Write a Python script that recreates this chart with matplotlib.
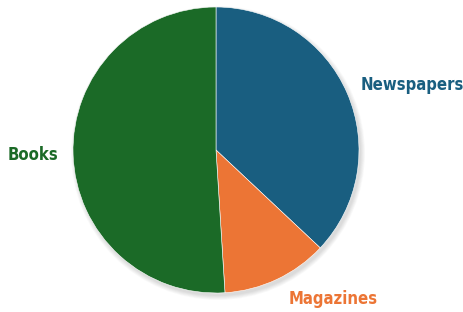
import matplotlib.pyplot as plt
from matplotlib.patches import Circle

# data
labels = ["Newspapers", "Magazines", "Books"]
values = [37, 12, 51]
colors = ["#195e80", "#ec7535", "#1b6a27"]

fig = plt.figure(figsize=(4.64, 3.12), dpi=100)
ax = fig.add_axes([0, 0, 1, 1])

cx, cy, r = 216, 162, 143

# soft shadow
for i in range(6):
    ax.add_patch(Circle((cx + 2, cy - 3), r + 4 - i * 0.8, color="black",
                        alpha=0.025, lw=0, zorder=0))

wedges, texts = ax.pie(values, labels=labels, colors=colors, startangle=90,
                       counterclock=False, center=(cx, cy), radius=r,
                       labeldistance=1.15, frame=True,
                       wedgeprops=dict(edgecolor="white", linewidth=0.4),
                       textprops=dict(fontsize=12, fontweight="bold",
                                      fontstretch="condensed"))
ax.set_xlim(0, 464)
ax.set_ylim(0, 312)
ax.set_aspect("equal")
ax.axis("off")
# small nudges so the labels sit where the original has them
nudge = [-6, 3, 7]
for t, c, dx in zip(texts, colors, nudge):
    t.set_color(c)
    t.set_zorder(5)
    x, y = t.get_position()
    # center is offset, so fix alignment by side of the pie
    t.set_ha("left" if x >= cx else "right")
    t.set_x(x + dx)

fig.savefig("out.png", dpi=100)
